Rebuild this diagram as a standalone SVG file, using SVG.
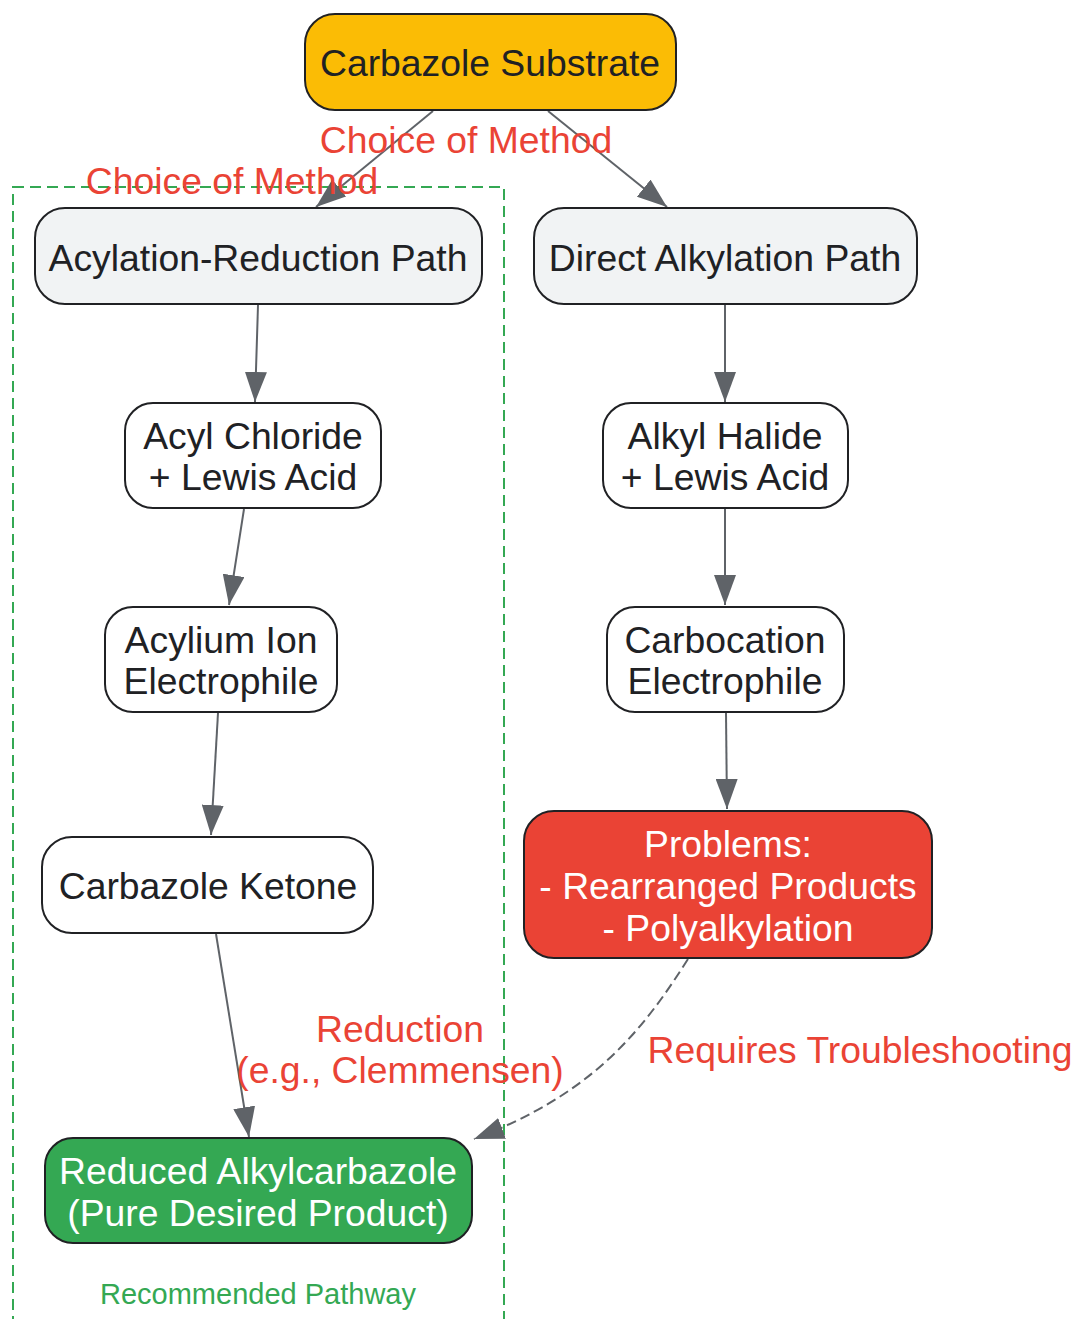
<svg xmlns="http://www.w3.org/2000/svg" width="1074" height="1319" viewBox="0 0 1074 1319">
<style>
.n{stroke:#202124;stroke-width:2}
.t{font-family:"Liberation Sans",Arial,sans-serif;font-size:37.3px;text-anchor:middle;fill:#202124}
.w{fill:#ffffff}
.lbl{font-family:"Liberation Sans",Arial,sans-serif;font-size:37.3px;text-anchor:middle;fill:#EA4335}
.e{fill:none;stroke:#5F6368;stroke-width:2}
</style>
<defs>
<marker id="ah" viewBox="0 0 30 22" refX="30" refY="11" markerWidth="30" markerHeight="22" markerUnits="userSpaceOnUse" orient="auto">
<path d="M0,0 L30,11 L0,22 Z" fill="#5F6368"/>
</marker>
</defs>
<g id="cluster">
<rect x="13" y="187" width="491" height="1150" fill="none" stroke="#34A853" stroke-width="2" stroke-dasharray="11 6"/>
<text x="258" y="1304" style="font-family:'Liberation Sans',Arial,sans-serif;font-size:29px;text-anchor:middle;fill:#34A853">Recommended Pathway</text>
</g>
<g id="connectors">
<path class="e" d="M433,111 L316,207" marker-end="url(#ah)"/>
<path class="e" d="M548,111 L667,207" marker-end="url(#ah)"/>
<path class="e" d="M258,305 L255,402" marker-end="url(#ah)"/>
<path class="e" d="M244,509 L229,605" marker-end="url(#ah)"/>
<path class="e" d="M218,713 L211,835" marker-end="url(#ah)"/>
<path class="e" d="M216,934 L249,1137" marker-end="url(#ah)"/>
<path class="e" d="M725,305 L725,402" marker-end="url(#ah)"/>
<path class="e" d="M725,509 L725,605" marker-end="url(#ah)"/>
<path class="e" d="M726,713 L727,809" marker-end="url(#ah)"/>
<path class="e" d="M688,959 C640,1035 590,1095 474,1139" stroke-width="2.5" stroke-dasharray="10 5" marker-end="url(#ah)"/>
<text class="lbl" x="466" y="153">Choice of Method</text>
<text class="lbl" x="232" y="194">Choice of Method</text>
<text class="lbl" x="400" y="1042">Reduction</text>
<text class="lbl" x="400" y="1083">(e.g., Clemmensen)</text>
<text class="lbl" x="860" y="1063">Requires Troubleshooting</text>
</g>
<g id="carbazole-substrate">
<rect class="n" x="305" y="14" width="371" height="96" rx="30" fill="#FBBC05"/>
<text class="t" x="490" y="76">Carbazole Substrate</text>
</g>
<g id="acylation-path">
<rect class="n" x="35" y="208" width="447" height="96" rx="30" fill="#F1F3F4"/>
<text class="t" x="258" y="271">Acylation-Reduction Path</text>
</g>
<g id="direct-path">
<rect class="n" x="534" y="208" width="383" height="96" rx="30" fill="#F1F3F4"/>
<text class="t" x="725" y="271">Direct Alkylation Path</text>
</g>
<g id="acyl-chloride">
<rect class="n" x="125" y="403" width="256" height="105" rx="28" fill="#ffffff"/>
<text class="t" x="253" y="449">Acyl Chloride</text>
<text class="t" x="253" y="490">+ Lewis Acid</text>
</g>
<g id="alkyl-halide">
<rect class="n" x="603" y="403" width="245" height="105" rx="28" fill="#ffffff"/>
<text class="t" x="725" y="449">Alkyl Halide</text>
<text class="t" x="725" y="490">+ Lewis Acid</text>
</g>
<g id="acylium-ion">
<rect class="n" x="105" y="607" width="232" height="105" rx="28" fill="#ffffff"/>
<text class="t" x="221" y="653">Acylium Ion</text>
<text class="t" x="221" y="694">Electrophile</text>
</g>
<g id="carbocation">
<rect class="n" x="607" y="607" width="237" height="105" rx="28" fill="#ffffff"/>
<text class="t" x="725" y="653">Carbocation</text>
<text class="t" x="725" y="694">Electrophile</text>
</g>
<g id="carbazole-ketone">
<rect class="n" x="42" y="837" width="331" height="96" rx="30" fill="#ffffff"/>
<text class="t" x="208" y="899">Carbazole Ketone</text>
</g>
<g id="problems">
<rect class="n" x="524" y="811" width="408" height="147" rx="30" fill="#EA4335"/>
<text class="t w" x="728" y="857">Problems:</text>
<text class="t w" x="728" y="899">- Rearranged Products</text>
<text class="t w" x="728" y="941">- Polyalkylation</text>
</g>
<g id="reduced-alkylcarbazole">
<rect class="n" x="45" y="1138" width="427" height="105" rx="28" fill="#34A853"/>
<text class="t w" x="258" y="1184">Reduced Alkylcarbazole</text>
<text class="t w" x="258" y="1226">(Pure Desired Product)</text>
</g>
</svg>
